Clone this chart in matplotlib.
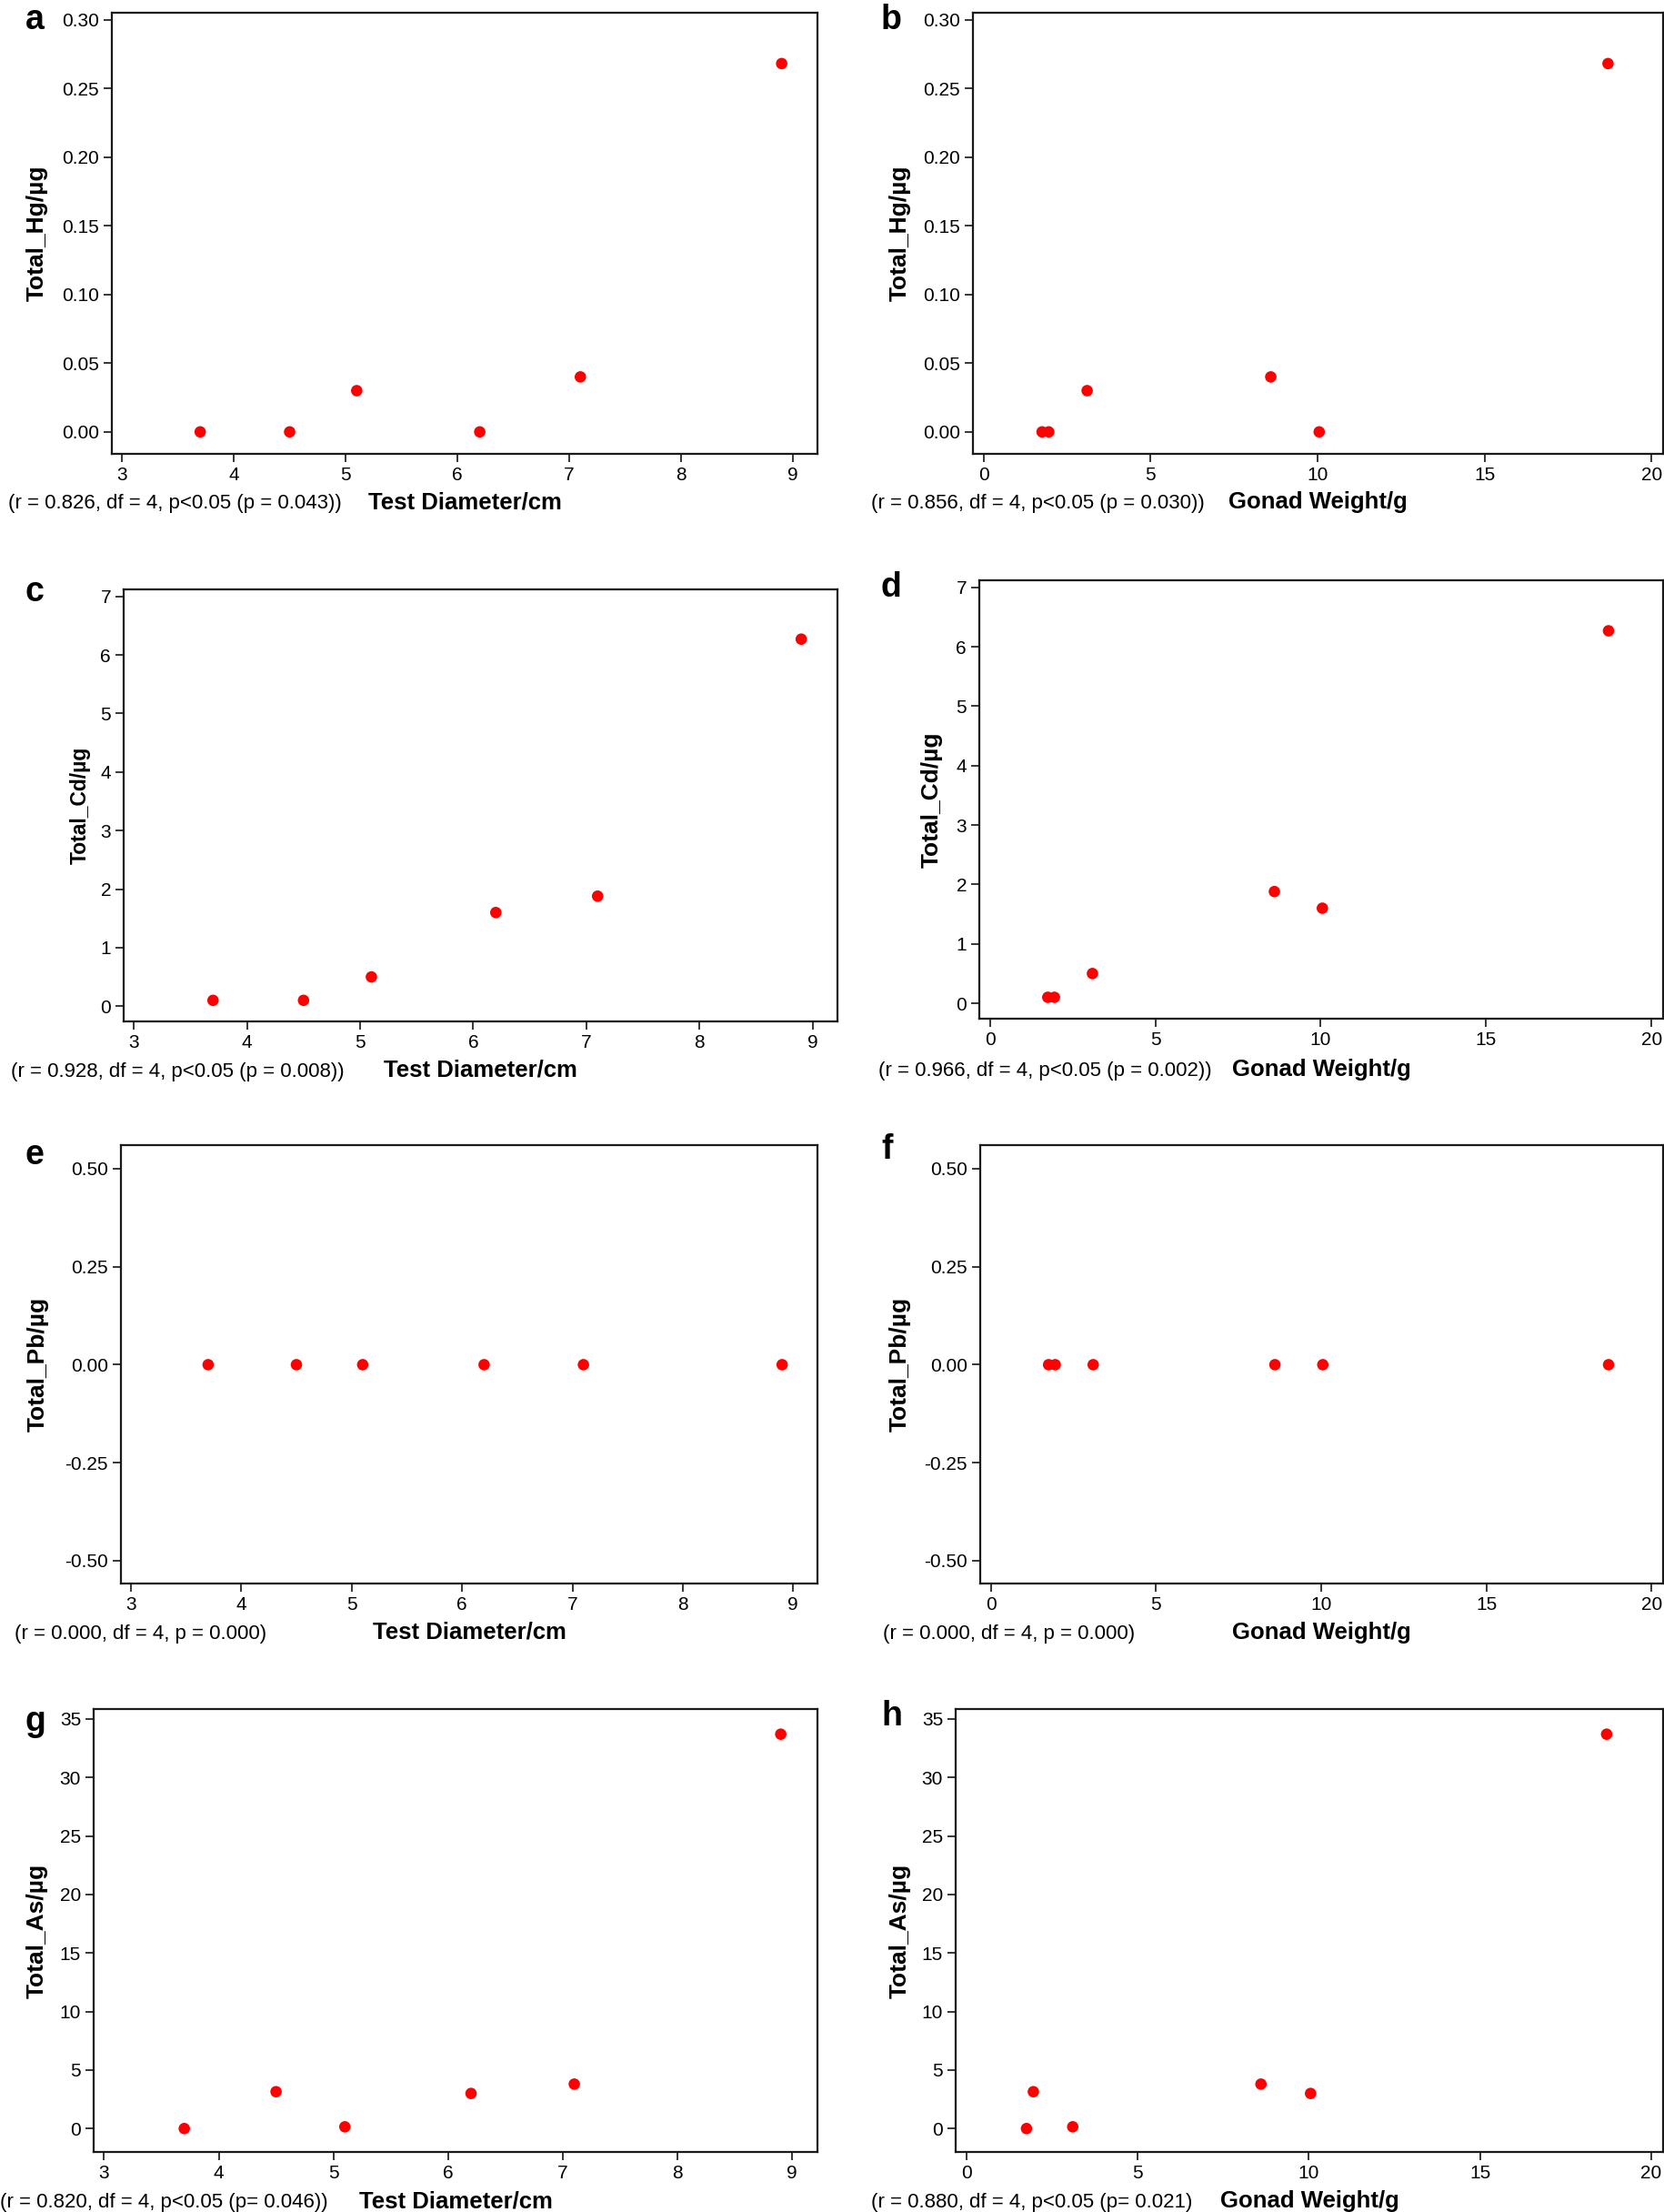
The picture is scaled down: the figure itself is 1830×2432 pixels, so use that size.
import matplotlib
matplotlib.use("Agg")
import matplotlib.pyplot as plt
from matplotlib.ticker import FormatStrFormatter

W, H = 1831, 2432

# six sea urchins, same order in every list
diameter = [3.7, 4.5, 5.1, 6.2, 7.1, 8.9]          # Test Diameter / cm
gonad = [1.75, 1.95, 3.1, 10.05, 8.6, 18.7]         # Gonad Weight / g
hg = [0.0, 0.0, 0.03, 0.0, 0.04, 0.268]
cd = [0.1, 0.1, 0.5, 1.6, 1.88, 6.27]
pb = [0.0, 0.0, 0.0, 0.0, 0.0, 0.0]
as_ = [0.0, 3.15, 0.15, 3.0, 3.8, 33.7]

x_names = ["Test Diameter/cm", "Gonad Weight/g"]
y_names = ["Total_Hg/µg", "Total_Cd/µg", "Total_Pb/µg", "Total_As/µg"]
letters = ["a", "b", "c", "d", "e", "f", "g", "h"]
stats = [
    "(r = 0.826, df = 4, p<0.05 (p = 0.043))",
    "(r = 0.856, df = 4, p<0.05 (p = 0.030))",
    "(r = 0.928, df = 4, p<0.05 (p = 0.008))",
    "(r = 0.966, df = 4, p<0.05 (p = 0.002))",
    "(r = 0.000, df = 4, p = 0.000)",
    "(r = 0.000, df = 4, p = 0.000)",
    "(r = 0.820, df = 4, p<0.05 (p= 0.046))",
    "(r = 0.880, df = 4, p<0.05 (p= 0.021)",
]

plt.rcParams["font.family"] = ["Liberation Sans", "DejaVu Sans"]
plt.rcParams["axes.unicode_minus"] = False

# layout in pixels: left, right, top, bottom of each axes box
boxes = [
    (123, 899, 14, 499), (1070, 1829, 14, 499),
    (136, 921, 648, 1123), (1077, 1829, 638, 1120),
    (133, 899, 1259, 1741), (1078, 1829, 1259, 1741),
    (103, 899, 1879, 2366), (1051, 1829, 1879, 2366),
]
ylabel_x = [41, 990, 88, 1025, 42, 990, 41, 990]
text_left = [9, 958, 12, 966, 16, 971, 0, 958]
baselines = [559, 559, 1184, 1183, 1802, 1802, 2427, 2427]
letter_pos = [(28, 32), (969, 32), (28, 661), (969, 656),
              (28, 1280), (969, 1274), (28, 1903), (969, 1897)]

xlims = [(2.91, 9.22), (-0.32, 20.35)]
ylims = [(-0.016, 0.305), (-0.26, 7.12), (-0.558, 0.56), (-2.0, 35.85)]
yticks = [[0, 0.05, 0.10, 0.15, 0.20, 0.25, 0.30],
          [0, 1, 2, 3, 4, 5, 6, 7],
          [-0.5, -0.25, 0, 0.25, 0.5],
          [0, 5, 10, 15, 20, 25, 30, 35]]
yfmt = ["%.2f", "%d", "%.2f", "%d"]
xticks = [[3, 4, 5, 6, 7, 8, 9], [0, 5, 10, 15, 20]]
metals = [hg, cd, pb, as_]
xs = [diameter, gonad]

fig = plt.figure(figsize=(W / 100, H / 100), dpi=100)

for i in range(8):
    row, col = divmod(i, 2)
    l, r, t, b = boxes[i]
    ax = fig.add_axes([l / W, 1 - b / H, (r - l) / W, (b - t) / H])
    ax.scatter(xs[col], metals[row], s=82, color="#ff0000", edgecolors="none", zorder=3)
    ax.set_xlim(*xlims[col])
    ax.set_ylim(*ylims[row])
    ax.set_xticks(xticks[col])
    ax.set_yticks(yticks[row])
    ax.yaxis.set_major_formatter(FormatStrFormatter(yfmt[row]))
    ax.tick_params(direction="out", length=6.5, width=1.1, labelsize=15, pad=3.5)
    for sp in ax.spines.values():
        sp.set_linewidth(1.6)
        sp.set_color("#1a1a1a")

    ax.set_xlabel(x_names[col], fontsize=18.5, fontweight="bold", va="baseline")
    ax.xaxis.set_label_coords(0.5, -(baselines[i] - b) / (b - t))
    ysize = 16.5 if i == 2 else 19
    ax.set_ylabel(y_names[row], fontsize=ysize, fontweight="bold", va="center", ha="center")
    ax.yaxis.set_label_coords((ylabel_x[i] - l) / (r - l), 0.5)

    fig.text(text_left[i] / W, 1 - baselines[i] / H, stats[i], fontsize=16,
             ha="left", va="baseline")
    lx, ly = letter_pos[i]
    fig.text(lx / W, 1 - ly / H, letters[i], fontsize=27, fontweight="bold",
             ha="left", va="baseline")

fig.savefig("out.png", dpi=100)
